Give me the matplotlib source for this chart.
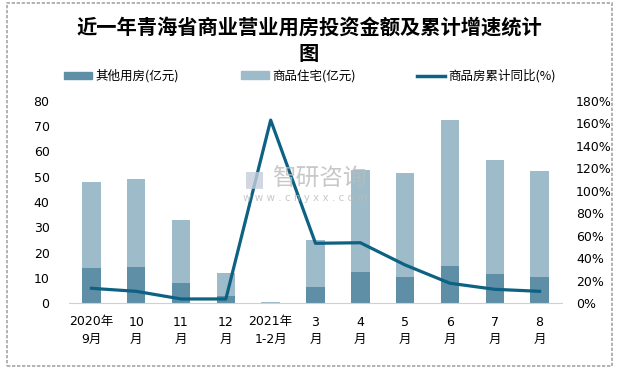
import matplotlib
matplotlib.use("Agg")
import matplotlib.pyplot as plt
from matplotlib.patches import Rectangle, Patch
from matplotlib.lines import Line2D
import numpy as np

plt.rcParams['font.family'] = ['DejaVu Sans', 'Noto Sans CJK SC']

categories = ["2020年\n9月", "10\n月", "11\n月", "12\n月", "2021年\n1-2月",
              "3\n月", "4\n月", "5\n月", "6\n月", "7\n月", "8\n月"]
other_use = [13.7, 14.3, 7.9, 2.8, 0.1, 6.3, 12.3, 10.3, 14.7, 11.5, 10.3]
residential = [34.1, 34.8, 25.0, 9.1, 0.4, 18.5, 40.4, 41.2, 57.8, 45.1, 42.0]
growth_pct = [13.1, 10.4, 3.6, 3.6, 163.0, 53.2, 53.7, 33.9, 17.6, 12.2, 10.4]

series_names = ["其他用房(亿元)", "商品住宅(亿元)", "商品房累计同比(%)"]
title = "近一年青海省商业营业用房投资金额及累计增速统计\n图"

c_dark = "#5E8FA6"
c_light = "#9DBBC8"
c_line = "#0D6283"

fig = plt.figure(figsize=(6.24, 3.69), dpi=100)
W, H = 624, 369

# outer border
fig.patches.append(Rectangle((7 / W, 1 - 366 / H), (612 - 7) / W, (366 - 3) / H,
                             transform=fig.transFigure, fill=False,
                             edgecolor="#A6A6A6", linewidth=1.2, linestyle=(0, (2, 1))))

ax = fig.add_axes([69 / W, 1 - 303 / H, (562 - 69) / W, (303 - 101) / H])
x = np.arange(len(categories))
ax.bar(x, other_use, width=0.41, color=c_dark, zorder=2)
ax.bar(x, residential, width=0.41, bottom=other_use, color=c_light, zorder=2)
ax.set_xlim(-0.5, len(categories) - 0.5)
ax.set_ylim(0, 80)
ax.set_yticks(range(0, 81, 10))
ax.set_xticks(x)
ax.set_xticklabels(categories, fontsize=9, linespacing=1.45)
for s in ["top", "right", "left"]:
    ax.spines[s].set_visible(False)
ax.spines["bottom"].set_color("#D0D0D0")
ax.tick_params(axis="both", length=0, colors="black")
ax.tick_params(axis="y", pad=14, labelsize=9)
ax.tick_params(axis="x", pad=9)

ax2 = ax.twinx()
ax2.plot(x, growth_pct, color=c_line, linewidth=2.3, zorder=5)
ax2.set_ylim(0, 180)
ax2.set_yticks(range(0, 181, 20))
ax2.set_yticklabels([f"{v}%" for v in range(0, 181, 20)])
for s in ["top", "right", "left", "bottom"]:
    ax2.spines[s].set_visible(False)
ax2.tick_params(axis="y", length=0, labelsize=9, pad=10)

# watermark
fig.text(272 / W, 1 - 179 / H, "智研咨询", fontsize=17, color="#BBBBBB", alpha=0.8,
         ha="left", va="center", zorder=3, family=['Noto Sans CJK SC', 'DejaVu Sans'])
fig.text(244 / W, 1 - 179 / H, "■", fontsize=16, color="#C5CEDD", alpha=0.8,
         ha="left", va="center", zorder=3)
fig.text(243 / W, 1 - 198 / H, "w w w . c h y x x . c o m", fontsize=7.5, color="#BBBBBB",
         alpha=0.8, ha="left", va="center", zorder=3)

fig.text(309 / W, 1 - 40 / H, title, ha="center", va="center", fontsize=14.6,
         fontweight="bold", linespacing=1.33, family=['Noto Sans CJK SC', 'DejaVu Sans'])

handles = [Patch(color=c_dark), Patch(color=c_light),
           Line2D([0], [0], color=c_line, linewidth=2.5)]
starts = [64, 241, 417]
for h, name, x0 in zip(handles, series_names, starts):
    leg = fig.legend([h], [name], loc="center left", bbox_to_anchor=(x0 / W, 1 - 76 / H),
                     frameon=False, fontsize=9, handlelength=2.2, handleheight=0.55,
                     handletextpad=0.3, borderpad=0, borderaxespad=0,
                     prop={'family': ['Noto Sans CJK SC', 'DejaVu Sans'], 'size': 9})

fig.savefig("out.png", dpi=100)
